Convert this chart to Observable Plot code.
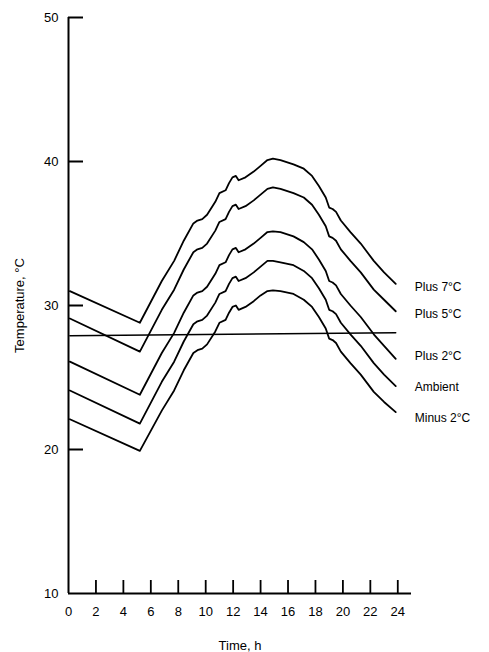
<!DOCTYPE html>
<html>
<head>
<meta charset="utf-8">
<script src="https://cdn.jsdelivr.net/npm/d3@7"></script>
<script src="https://cdn.jsdelivr.net/npm/@observablehq/plot@0.6"></script>
<style>
  body { margin: 0; background: #fff; }
  svg { display: block; }
</style>
</head>
<body>
<div id="chart"></div>
<script>
// Time (h) at which each curve was read
const hours = [0.1, 5.2, 6.8, 7.7, 8.4, 9.1, 9.4, 9.75, 10.1, 10.7, 11.0, 11.45, 11.7, 11.95, 12.2, 12.4, 12.9, 13.5, 14.0, 14.5, 14.9, 15.45, 16.4, 17.15, 17.75, 18.25, 18.75, 19.0, 19.25, 19.5, 19.85, 20.55, 21.3, 22.25, 23.0, 23.85];

// Temperatures (°C) of each curve
const plus7   = [31.0, 28.8, 31.7, 33.1, 34.5, 35.7, 35.9, 36.0, 36.3, 37.2, 37.8, 38.0, 38.5, 38.9, 39.0, 38.7, 38.9, 39.3, 39.7, 40.1, 40.2, 40.1, 39.8, 39.5, 39.0, 38.3, 37.5, 36.8, 36.7, 36.5, 35.9, 35.1, 34.3, 33.1, 32.3, 31.5];
const plus5   = [29.1, 26.8, 29.7, 31.1, 32.5, 33.7, 33.9, 34.0, 34.3, 35.2, 35.8, 36.0, 36.5, 36.9, 37.0, 36.7, 36.9, 37.3, 37.7, 38.1, 38.2, 38.1, 37.8, 37.5, 37.0, 36.3, 35.5, 34.8, 34.7, 34.5, 33.9, 33.1, 32.3, 31.1, 30.4, 29.6];
const plus2   = [26.1, 23.8, 26.7, 28.1, 29.5, 30.7, 30.9, 31.0, 31.3, 32.2, 32.8, 33.0, 33.5, 33.9, 34.0, 33.7, 33.9, 34.3, 34.7, 35.1, 35.15, 35.1, 34.8, 34.4, 33.9, 33.2, 32.4, 31.7, 31.6, 31.4, 30.8, 30.0, 29.2, 28.0, 27.2, 26.3];
const ambient = [24.1, 21.8, 24.7, 26.1, 27.5, 28.7, 28.9, 29.0, 29.3, 30.2, 30.8, 31.0, 31.5, 31.9, 32.0, 31.7, 31.9, 32.3, 32.7, 33.1, 33.1, 33.0, 32.8, 32.4, 31.9, 31.2, 30.4, 29.7, 29.6, 29.4, 28.8, 28.0, 27.2, 26.0, 25.2, 24.4];
const minus2  = [22.1, 19.9, 22.7, 24.1, 25.5, 26.7, 26.9, 27.0, 27.3, 28.2, 28.8, 29.0, 29.5, 29.9, 30.0, 29.7, 29.9, 30.3, 30.7, 31.0, 31.05, 31.0, 30.8, 30.4, 29.9, 29.2, 28.4, 27.7, 27.6, 27.4, 26.8, 26.0, 25.2, 24.0, 23.3, 22.6];

const seriesNames = ["Plus 7°C", "Plus 5°C", "Plus 2°C", "Ambient", "Minus 2°C"];
const labelTemps  = [31.3, 29.4, 26.5, 24.3, 22.15];

// Nearly horizontal reference line
const refHours = [0.1, 23.85];
const refTemps = [27.9, 28.1];

const xTicks = [0, 2, 4, 6, 8, 10, 12, 14, 16, 18, 20, 22, 24];
const yTicks = [10, 20, 30, 40, 50];
const xDomain = [0, 25];
const yDomain = [10, 50];

// Build tables
const allSeries = [plus7, plus5, plus2, ambient, minus2];
const rows = [];
allSeries.forEach((vals, i) => vals.forEach((t, j) => rows.push({series: seriesNames[i], hour: hours[j], temp: t})));
const refRows = refHours.map((h, i) => ({hour: h, temp: refTemps[i]}));
const labelRows = seriesNames.map((name, i) => ({name, hour: hours[hours.length - 1], temp: labelTemps[i]}));

const W = 489, H = 652;
const mL = 68, mR = 78, mT = 17, mB = 59;
const frameW = W - mL - mR, frameH = H - mT - mB;

const chart = Plot.plot({
  width: W,
  height: H,
  marginLeft: mL,
  marginRight: mR,
  marginTop: mT,
  marginBottom: mB,
  style: {fontFamily: "'Liberation Sans', Arial, Helvetica, sans-serif", fontSize: "12px", background: "#fff", color: "#000"},
  x: {domain: xDomain},
  y: {domain: yDomain},
  marks: [
    Plot.axisY(yTicks, {tickSize: 0, tickPadding: 10, fontSize: 13, label: "Temperature, °C", labelAnchor: "center", labelOffset: 54, labelArrow: "none"}),
    Plot.axisX(xTicks, {tickSize: 0, tickPadding: 13, fontSize: 13, label: "Time, h", labelAnchor: "center", labelOffset: 56, labelArrow: "none"}),
    // axis lines
    Plot.ruleX([xDomain[0]], {stroke: "#000", strokeWidth: 2}),
    Plot.ruleY([yDomain[0]], {stroke: "#000", strokeWidth: 1.8}),
    // inward tick marks
    Plot.ruleY(yTicks.filter(d => d > yDomain[0]), {stroke: "#000", strokeWidth: 2, insetRight: frameW - 15}),
    Plot.ruleX(xTicks.filter(d => d > xDomain[0]), {stroke: "#000", strokeWidth: 1.8, insetTop: frameH - 13}),
    // reference line
    Plot.line(refRows, {x: "hour", y: "temp", stroke: "#000", strokeWidth: 1.5}),
    // temperature curves
    Plot.line(rows, {x: "hour", y: "temp", z: "series", stroke: "#000", strokeWidth: 1.8, strokeLinejoin: "round"}),
    // series labels
    Plot.text(labelRows, {x: "hour", y: "temp", text: "name", textAnchor: "start", dx: 19, fontSize: 12, fill: "#000"})
  ]
});
document.getElementById("chart").appendChild(chart);
</script>
</body>
</html>
